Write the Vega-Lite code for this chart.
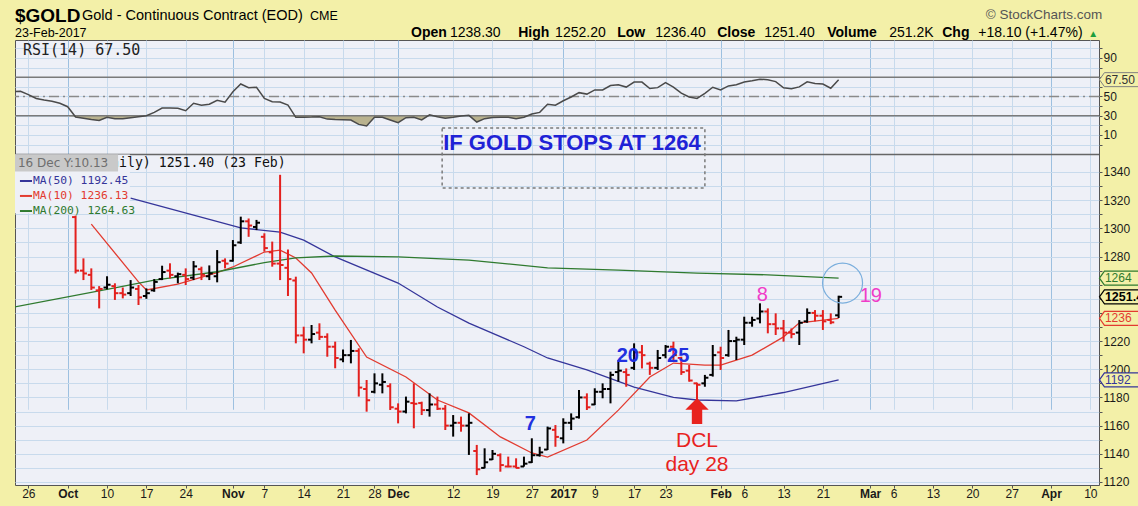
{
"$schema": "https://vega.github.io/schema/vega-lite/v6.json",
"width": 1084,
"height": 445,
"autosize": {"type": "none"},
"padding": {"left": 15, "top": 40, "right": 39, "bottom": 21},
"background": "#F3F0A8",
"config": {
  "font": "Liberation Sans",
  "view": {"fill": "#EEF0F7", "stroke": "#555555", "strokeWidth": 1},
  "axis": {"domain": false, "labelFont": "Liberation Sans", "labelFontSize": 12, "labelColor": "#1A1A1A", "tickColor": "#555555", "tickSize": 3, "labelPadding": 1, "gridColor": "#C8DAEC", "gridWidth": 1}
},
"datasets": {
  "rsi": [{"i":-2,"rsi":55},{"i":-1,"rsi":55.5},{"i":0,"rsi":52},{"i":1,"rsi":48},{"i":2,"rsi":46.4},{"i":3,"rsi":45},{"i":4,"rsi":43},{"i":5,"rsi":39.4},{"i":6,"rsi":28.7},{"i":7,"rsi":27.5},{"i":8,"rsi":26},{"i":9,"rsi":25},{"i":10,"rsi":28.4},{"i":11,"rsi":27},{"i":12,"rsi":27},{"i":13,"rsi":28},{"i":14,"rsi":29},{"i":15,"rsi":30},{"i":16,"rsi":33.5},{"i":17,"rsi":38},{"i":18,"rsi":38},{"i":19,"rsi":37.7},{"i":20,"rsi":35.2},{"i":21,"rsi":43},{"i":22,"rsi":41},{"i":23,"rsi":42},{"i":24,"rsi":46},{"i":25,"rsi":44},{"i":26,"rsi":55},{"i":27,"rsi":63},{"i":28,"rsi":59.2},{"i":29,"rsi":59.6},{"i":30,"rsi":48},{"i":31,"rsi":44.6},{"i":32,"rsi":44.3},{"i":33,"rsi":41},{"i":34,"rsi":28.4},{"i":35,"rsi":28.4},{"i":36,"rsi":28.6},{"i":37,"rsi":29},{"i":38,"rsi":26.5},{"i":39,"rsi":26},{"i":40,"rsi":25.8},{"i":41,"rsi":25.6},{"i":42,"rsi":21},{"i":43,"rsi":19.3},{"i":44,"rsi":28.4},{"i":45,"rsi":28.4},{"i":46,"rsi":25.5},{"i":47,"rsi":22.8},{"i":48,"rsi":28},{"i":49,"rsi":28.4},{"i":50,"rsi":25.6},{"i":51,"rsi":31},{"i":52,"rsi":29},{"i":53,"rsi":27.5},{"i":54,"rsi":28.5},{"i":55,"rsi":29.8},{"i":56,"rsi":30.4},{"i":57,"rsi":23.5},{"i":58,"rsi":27},{"i":59,"rsi":28.3},{"i":60,"rsi":28.4},{"i":61,"rsi":28.4},{"i":62,"rsi":27},{"i":63,"rsi":28.4},{"i":64,"rsi":31.8},{"i":65,"rsi":33.5},{"i":66,"rsi":42},{"i":67,"rsi":41},{"i":68,"rsi":45.6},{"i":69,"rsi":49.5},{"i":70,"rsi":54},{"i":71,"rsi":52.5},{"i":72,"rsi":56.8},{"i":73,"rsi":56.8},{"i":74,"rsi":61.4},{"i":75,"rsi":62.3},{"i":76,"rsi":59.8},{"i":77,"rsi":65},{"i":78,"rsi":65},{"i":79,"rsi":58.3},{"i":80,"rsi":59.2},{"i":81,"rsi":64.4},{"i":82,"rsi":59.8},{"i":83,"rsi":53.5},{"i":84,"rsi":49.5},{"i":85,"rsi":48},{"i":86,"rsi":53.3},{"i":87,"rsi":59.6},{"i":88,"rsi":56.8},{"i":89,"rsi":61},{"i":90,"rsi":62.3},{"i":91,"rsi":65},{"i":92,"rsi":66.3},{"i":93,"rsi":68},{"i":94,"rsi":67.3},{"i":95,"rsi":65.5},{"i":96,"rsi":59},{"i":97,"rsi":58.1},{"i":98,"rsi":60},{"i":99,"rsi":65.2},{"i":100,"rsi":63.5},{"i":101,"rsi":63},{"i":102,"rsi":58.6},{"i":103,"rsi":67.5}],
  "ohlc": [
{"i":6,"date":"2016-10-04","open":1308,"high":1309,"low":1268,"close":1270,"dir":"down"},
{"i":7,"date":"2016-10-05","open":1270,"high":1278.7,"low":1263.3,"close":1268,"dir":"down"},
{"i":8,"date":"2016-10-06","open":1267,"high":1271.6,"low":1256.3,"close":1258,"dir":"down"},
{"i":9,"date":"2016-10-07","open":1256,"high":1259,"low":1243.2,"close":1257,"dir":"down"},
{"i":10,"date":"2016-10-10","open":1258,"high":1266,"low":1256.7,"close":1260,"dir":"up"},
{"i":11,"date":"2016-10-11","open":1259,"high":1261,"low":1249.2,"close":1254,"dir":"down"},
{"i":12,"date":"2016-10-12","open":1254,"high":1258,"low":1250.3,"close":1253,"dir":"down"},
{"i":13,"date":"2016-10-13","open":1254,"high":1263.3,"low":1252,"close":1258,"dir":"up"},
{"i":14,"date":"2016-10-14","open":1257,"high":1259.8,"low":1245.6,"close":1251,"dir":"down"},
{"i":15,"date":"2016-10-17","open":1252,"high":1257.4,"low":1250,"close":1254,"dir":"up"},
{"i":16,"date":"2016-10-18","open":1256,"high":1264,"low":1255,"close":1262,"dir":"up"},
{"i":17,"date":"2016-10-19","open":1264,"high":1273.5,"low":1263.3,"close":1269,"dir":"up"},
{"i":18,"date":"2016-10-20","open":1270,"high":1275.2,"low":1264.5,"close":1267,"dir":"down"},
{"i":19,"date":"2016-10-21","open":1266,"high":1268.6,"low":1261,"close":1267.5,"dir":"up"},
{"i":20,"date":"2016-10-24","open":1267,"high":1271.6,"low":1259.8,"close":1264,"dir":"down"},
{"i":21,"date":"2016-10-25","open":1265,"high":1276.8,"low":1263.3,"close":1273,"dir":"up"},
{"i":22,"date":"2016-10-26","open":1271,"high":1272.8,"low":1263.3,"close":1267,"dir":"down"},
{"i":23,"date":"2016-10-27","open":1266,"high":1273.7,"low":1263.3,"close":1268,"dir":"up"},
{"i":24,"date":"2016-10-28","open":1266,"high":1284.6,"low":1261.7,"close":1276,"dir":"up"},
{"i":25,"date":"2016-10-31","open":1277,"high":1278.7,"low":1271.6,"close":1275,"dir":"down"},
{"i":26,"date":"2016-11-01","open":1277,"high":1291.7,"low":1276.4,"close":1288,"dir":"up"},
{"i":27,"date":"2016-11-02","open":1290,"high":1308.3,"low":1289,"close":1305,"dir":"up"},
{"i":28,"date":"2016-11-03","open":1305,"high":1307,"low":1294,"close":1302,"dir":"down"},
{"i":29,"date":"2016-11-04","open":1301,"high":1306,"low":1298.8,"close":1304,"dir":"up"},
{"i":30,"date":"2016-11-07","open":1294,"high":1296.5,"low":1283.5,"close":1286,"dir":"down"},
{"i":31,"date":"2016-11-08","open":1283,"high":1290.6,"low":1272.8,"close":1275,"dir":"down"},
{"i":32,"date":"2016-11-09","open":1275,"high":1338,"low":1263.3,"close":1274,"dir":"down"},
{"i":33,"date":"2016-11-10","open":1272,"high":1285,"low":1252,"close":1264,"dir":"down"},
{"i":34,"date":"2016-11-11","open":1263,"high":1265.7,"low":1218.4,"close":1224,"dir":"down"},
{"i":35,"date":"2016-11-14","open":1224,"high":1230.2,"low":1211.3,"close":1221,"dir":"down"},
{"i":36,"date":"2016-11-15","open":1221,"high":1231.4,"low":1218.4,"close":1225,"dir":"up"},
{"i":37,"date":"2016-11-16","open":1226,"high":1232.6,"low":1220.8,"close":1223,"dir":"down"},
{"i":38,"date":"2016-11-17","open":1223,"high":1225.5,"low":1208.9,"close":1216,"dir":"down"},
{"i":39,"date":"2016-11-18","open":1216,"high":1219.6,"low":1200.7,"close":1208,"dir":"down"},
{"i":40,"date":"2016-11-21","open":1207,"high":1214,"low":1205,"close":1210,"dir":"up"},
{"i":41,"date":"2016-11-22","open":1210,"high":1220.8,"low":1204.2,"close":1213,"dir":"up"},
{"i":42,"date":"2016-11-23","open":1213,"high":1214.9,"low":1180.6,"close":1187,"dir":"down"},
{"i":43,"date":"2016-11-25","open":1186,"high":1192.4,"low":1169.9,"close":1178,"dir":"down"},
{"i":44,"date":"2016-11-28","open":1184,"high":1197.1,"low":1182.9,"close":1190,"dir":"up"},
{"i":45,"date":"2016-11-29","open":1189,"high":1197.1,"low":1182.9,"close":1191,"dir":"up"},
{"i":46,"date":"2016-11-30","open":1188,"high":1190,"low":1171.1,"close":1173,"dir":"down"},
{"i":47,"date":"2016-12-01","open":1172,"high":1175.8,"low":1161.6,"close":1170,"dir":"down"},
{"i":48,"date":"2016-12-02","open":1170,"high":1180.6,"low":1168.7,"close":1177,"dir":"up"},
{"i":49,"date":"2016-12-05","open":1176,"high":1190,"low":1158.1,"close":1175.5,"dir":"down"},
{"i":50,"date":"2016-12-06","open":1176,"high":1177,"low":1167.5,"close":1171,"dir":"down"},
{"i":51,"date":"2016-12-07","open":1171,"high":1182.9,"low":1166.4,"close":1175,"dir":"up"},
{"i":52,"date":"2016-12-08","open":1175,"high":1180.6,"low":1171.1,"close":1172,"dir":"down"},
{"i":53,"date":"2016-12-09","open":1172,"high":1174.6,"low":1156.9,"close":1160,"dir":"down"},
{"i":54,"date":"2016-12-12","open":1160,"high":1167.5,"low":1152.2,"close":1162,"dir":"up"},
{"i":55,"date":"2016-12-13","open":1162,"high":1166.4,"low":1155.7,"close":1160,"dir":"down"},
{"i":56,"date":"2016-12-14","open":1160,"high":1168.7,"low":1139.2,"close":1162,"dir":"up"},
{"i":57,"date":"2016-12-15","open":1142,"high":1146.3,"low":1124.9,"close":1129,"dir":"down"},
{"i":58,"date":"2016-12-16","open":1130,"high":1143.9,"low":1129.7,"close":1134,"dir":"up"},
{"i":59,"date":"2016-12-19","open":1136,"high":1142.7,"low":1135.6,"close":1140,"dir":"up"},
{"i":60,"date":"2016-12-20","open":1139,"high":1140.3,"low":1127.3,"close":1132,"dir":"down"},
{"i":61,"date":"2016-12-21","open":1131,"high":1138,"low":1130.5,"close":1131,"dir":"down"},
{"i":62,"date":"2016-12-22","open":1131,"high":1136.8,"low":1129.7,"close":1130,"dir":"down"},
{"i":63,"date":"2016-12-23","open":1131,"high":1138,"low":1130.9,"close":1133,"dir":"up"},
{"i":64,"date":"2016-12-27","open":1134,"high":1151,"low":1133.5,"close":1139,"dir":"up"},
{"i":65,"date":"2016-12-28","open":1139,"high":1145,"low":1138,"close":1141,"dir":"up"},
{"i":66,"date":"2016-12-29","open":1143,"high":1159.3,"low":1142.7,"close":1158,"dir":"up"},
{"i":67,"date":"2016-12-30","open":1157,"high":1160.4,"low":1145,"close":1152,"dir":"down"},
{"i":68,"date":"2017-01-03","open":1151,"high":1165.2,"low":1147.4,"close":1162,"dir":"up"},
{"i":69,"date":"2017-01-04","open":1162,"high":1168.7,"low":1156.9,"close":1165,"dir":"up"},
{"i":70,"date":"2017-01-05","open":1166,"high":1185.3,"low":1165,"close":1180,"dir":"up"},
{"i":71,"date":"2017-01-06","open":1180,"high":1182.9,"low":1171.1,"close":1173,"dir":"down"},
{"i":72,"date":"2017-01-09","open":1175,"high":1186.5,"low":1174.6,"close":1184,"dir":"up"},
{"i":73,"date":"2017-01-10","open":1184,"high":1190,"low":1179.4,"close":1186,"dir":"up"},
{"i":74,"date":"2017-01-11","open":1186,"high":1198.3,"low":1175.8,"close":1196,"dir":"up"},
{"i":75,"date":"2017-01-12","open":1198,"high":1206.6,"low":1191.2,"close":1199,"dir":"up"},
{"i":76,"date":"2017-01-13","open":1198,"high":1200.6,"low":1187.6,"close":1196,"dir":"down"},
{"i":77,"date":"2017-01-17","open":1201,"high":1218.4,"low":1199.5,"close":1212,"dir":"up"},
{"i":78,"date":"2017-01-18","open":1212,"high":1217.2,"low":1200.6,"close":1210,"dir":"down"},
{"i":79,"date":"2017-01-19","open":1204,"high":1205.4,"low":1196,"close":1201,"dir":"down"},
{"i":80,"date":"2017-01-20","open":1201,"high":1213.7,"low":1199.5,"close":1208,"dir":"up"},
{"i":81,"date":"2017-01-23","open":1210,"high":1217.2,"low":1207.8,"close":1216,"dir":"up"},
{"i":82,"date":"2017-01-24","open":1216,"high":1219.6,"low":1206.6,"close":1210,"dir":"down"},
{"i":83,"date":"2017-01-25","open":1208,"high":1208.9,"low":1196,"close":1198,"dir":"down"},
{"i":84,"date":"2017-01-26","open":1199,"high":1203,"low":1191.2,"close":1192,"dir":"down"},
{"i":85,"date":"2017-01-27","open":1190,"high":1190.5,"low":1178.2,"close":1189,"dir":"down"},
{"i":86,"date":"2017-01-30","open":1190,"high":1196,"low":1187.6,"close":1194,"dir":"up"},
{"i":87,"date":"2017-01-31","open":1196,"high":1217.2,"low":1194.8,"close":1210,"dir":"up"},
{"i":88,"date":"2017-02-01","open":1212,"high":1216,"low":1199.5,"close":1208,"dir":"down"},
{"i":89,"date":"2017-02-02","open":1210,"high":1227.9,"low":1208.9,"close":1220,"dir":"up"},
{"i":90,"date":"2017-02-03","open":1220,"high":1223.1,"low":1206.6,"close":1221,"dir":"up"},
{"i":91,"date":"2017-02-06","open":1221,"high":1237.3,"low":1217.2,"close":1233,"dir":"up"},
{"i":92,"date":"2017-02-07","open":1233,"high":1237.3,"low":1230.2,"close":1235,"dir":"up"},
{"i":93,"date":"2017-02-08","open":1236,"high":1246.8,"low":1232.6,"close":1241,"dir":"up"},
{"i":94,"date":"2017-02-09","open":1241,"high":1243.2,"low":1225.5,"close":1232,"dir":"down"},
{"i":95,"date":"2017-02-10","open":1232,"high":1239.7,"low":1224.3,"close":1229,"dir":"down"},
{"i":96,"date":"2017-02-13","open":1229,"high":1235,"low":1219.6,"close":1226,"dir":"down"},
{"i":97,"date":"2017-02-14","open":1226,"high":1229,"low":1222,"close":1225,"dir":"down"},
{"i":98,"date":"2017-02-15","open":1226,"high":1234.9,"low":1217.2,"close":1233,"dir":"up"},
{"i":99,"date":"2017-02-16","open":1234,"high":1243.2,"low":1233,"close":1240,"dir":"up"},
{"i":100,"date":"2017-02-17","open":1240,"high":1242,"low":1234,"close":1238,"dir":"down"},
{"i":101,"date":"2017-02-21","open":1238,"high":1242,"low":1227.9,"close":1234,"dir":"down"},
{"i":102,"date":"2017-02-22","open":1235,"high":1239.7,"low":1232,"close":1233.3,"dir":"down"},
{"i":103,"date":"2017-02-23","open":1238.3,"high":1252.2,"low":1236.4,"close":1251.4,"dir":"up"}
  ],
  "ma": [
{"series":"MA(10)","i":8,"value":1303},{"series":"MA(10)","i":14,"value":1262},{"series":"MA(10)","i":15,"value":1256.3},{"series":"MA(10)","i":19,"value":1260.5},{"series":"MA(10)","i":24,"value":1268.5},{"series":"MA(10)","i":26,"value":1272.6},{"series":"MA(10)","i":30,"value":1283.2},{"series":"MA(10)","i":32,"value":1284.6},{"series":"MA(10)","i":34,"value":1279},{"series":"MA(10)","i":36,"value":1268.3},{"series":"MA(10)","i":39,"value":1242},{"series":"MA(10)","i":43,"value":1208.7},{"series":"MA(10)","i":48,"value":1194.5},{"series":"MA(10)","i":52,"value":1178.2},{"series":"MA(10)","i":56,"value":1169},{"series":"MA(10)","i":60,"value":1152},{"series":"MA(10)","i":64,"value":1140.6},{"series":"MA(10)","i":66,"value":1137.7},{"series":"MA(10)","i":71,"value":1149.8},{"series":"MA(10)","i":75,"value":1171},{"series":"MA(10)","i":79,"value":1194.5},{"series":"MA(10)","i":82,"value":1204.4},{"series":"MA(10)","i":86,"value":1203},{"series":"MA(10)","i":88,"value":1203},{"series":"MA(10)","i":92,"value":1210},{"series":"MA(10)","i":96,"value":1223},{"series":"MA(10)","i":98,"value":1233},{"series":"MA(10)","i":103,"value":1236.13},
{"series":"MA(50)","i":13,"value":1321.5},{"series":"MA(50)","i":27,"value":1300.3},{"series":"MA(50)","i":32,"value":1297.4},{"series":"MA(50)","i":35,"value":1291.7},{"series":"MA(50)","i":39,"value":1279.7},{"series":"MA(50)","i":47,"value":1261.2},{"series":"MA(50)","i":52,"value":1244.2},{"series":"MA(50)","i":56,"value":1232.8},{"series":"MA(50)","i":63,"value":1216},{"series":"MA(50)","i":66,"value":1208},{"series":"MA(50)","i":71,"value":1199.5},{"series":"MA(50)","i":77,"value":1187.4},{"series":"MA(50)","i":82,"value":1180},{"series":"MA(50)","i":85,"value":1178.2},{"series":"MA(50)","i":90,"value":1177.5},{"series":"MA(50)","i":96,"value":1183.5},{"series":"MA(50)","i":103,"value":1192.45},
{"series":"MA(200)","i":-2,"value":1243.9},{"series":"MA(200)","i":11,"value":1257.7},{"series":"MA(200)","i":16,"value":1263.3},{"series":"MA(200)","i":24,"value":1269.2},{"series":"MA(200)","i":30,"value":1275.7},{"series":"MA(200)","i":34,"value":1279},{"series":"MA(200)","i":39,"value":1280.4},{"series":"MA(200)","i":47,"value":1279.7},{"series":"MA(200)","i":56,"value":1277.5},{"series":"MA(200)","i":66,"value":1272},{"series":"MA(200)","i":75,"value":1270.4},{"series":"MA(200)","i":85,"value":1268.3},{"series":"MA(200)","i":94,"value":1267},{"series":"MA(200)","i":103,"value":1264.63}
  ],
  "legend": [
    {"series":"MA(50)","text":"MA(50) 1192.45","price":1333.6},
    {"series":"MA(10)","text":"MA(10) 1236.13","price":1323},
    {"series":"MA(200)","text":"MA(200) 1264.63","price":1312.3}
  ],
  "tags": [
    {"series":"MA(200)","value":1264.63,"label":"1264"},
    {"series":"MA(10)","value":1236.13,"label":"1236"},
    {"series":"MA(50)","value":1192.45,"label":"1192"},
    {"series":"close","value":1251.4,"label":"1251.40"}
  ],
  "notes": [
    {"text":"7","i":63.8,"price":1161,"kind":"cycle"},
    {"text":"20","i":76.2,"price":1209.4,"kind":"cycle"},
    {"text":"25","i":82.6,"price":1209.4,"kind":"cycle"},
    {"text":"8","i":93.3,"price":1252.7,"kind":"count"},
    {"text":"19","i":107.1,"price":1252.1,"kind":"count"},
    {"text":"DCL","i":85,"price":1149.1,"kind":"dcl"},
    {"text":"day 28","i":85,"price":1132,"kind":"dcl"},
    {"text":"IF GOLD STOPS AT 1264","i":69.1,"price":1360.6,"kind":"headline"}
  ],
  "header": [
    {"text":"$GOLD","i":-1.7,"r":127.4,"part":"ticker"},
    {"text":"Gold - Continuous Contract (EOD)","i":6.82,"r":129.5,"part":"name"},
    {"text":"CME","i":35.8,"r":129.5,"part":"small"},
    {"text":"23-Feb-2017","i":-1.7,"r":111.8,"part":"small"},
    {"text":"Open","i":48.65,"r":111.8,"part":"field"},
    {"text":"1238.30","i":53.6,"r":111.8,"part":"value"},
    {"text":"High","i":62.26,"r":111.8,"part":"field"},
    {"text":"1252.20","i":66.96,"r":111.8,"part":"value"},
    {"text":"Low","i":74.85,"r":111.8,"part":"field"},
    {"text":"1236.40","i":79.68,"r":111.8,"part":"value"},
    {"text":"Close","i":87.56,"r":111.8,"part":"field"},
    {"text":"1251.40","i":93.54,"r":111.8,"part":"value"},
    {"text":"Volume","i":101.55,"r":111.8,"part":"field"},
    {"text":"251.2K","i":109.43,"r":111.8,"part":"value"},
    {"text":"Chg","i":116.17,"r":111.8,"part":"field"},
    {"text":"+18.10 (+1.47%)","i":120.75,"r":111.8,"part":"value"},
    {"text":"▲","i":134.74,"r":111.8,"part":"arrow"},
    {"text":"© StockCharts.com","i":136.52,"r":130.5,"part":"credit"}
  ]
},
"layer": [
  {
    "data": {"name": "rsi"},
    "mark": {"type": "area", "color": "#B9B28E", "clip": true},
    "encoding": {
      "x": {"field": "i", "type": "quantitative", "scale": {"domain": [-1.7, 136.1], "nice": false, "zero": false}},
      "y": {"field": "rsi", "type": "quantitative", "scale": {"domain": [-353.64, 30], "range": [445, 75.75], "clamp": true, "nice": false, "zero": false}, "axis": null},
      "y2": {"datum": 30}
    }
  },
  {"data": {"values": [{"level": 70}, {"level": 30}]}, "mark": {"type": "rule", "color": "#7A7A7A", "strokeWidth": 1.5},
   "encoding": {"y": {"field": "level", "type": "quantitative", "scale": {"domain": [-353.64, 108.7], "nice": false, "zero": false}, "axis": null}}},
  {"data": {"values": [{"level": 50}]}, "mark": {"type": "rule", "color": "#8A8A8A", "strokeWidth": 1.5, "strokeDash": [10, 4, 2, 4]},
   "encoding": {"y": {"field": "level", "type": "quantitative", "scale": {"domain": [-353.64, 108.7], "nice": false, "zero": false}, "axis": null}}},
  {"data": {"values": [{"level": -10.3}]}, "mark": {"type": "rule", "color": "#666666", "strokeWidth": 1.5},
   "encoding": {"y": {"field": "level", "type": "quantitative", "scale": {"domain": [-353.64, 108.7], "nice": false, "zero": false}, "axis": null}}},
  {"data": {"name": "rsi"}, "mark": {"type": "line", "color": "#4A4A4A", "strokeWidth": 1.5, "clip": true},
   "encoding": {
     "x": {"field": "i", "type": "quantitative", "scale": {"domain": [-1.7, 136.1], "nice": false, "zero": false},
       "axis": {"orient": "bottom", "title": null, "tickCount": 200,
         "values": [0,5,10,15,20,26,30,35,40,44,47,54,59,64,68,72,77,81,88,91,96,101,107,110,115,120,125,130,135],
         "labelExpr": "datum.value == 0 ? '26' : datum.value == 5 ? 'Oct' : datum.value == 10 ? '10' : datum.value == 15 ? '17' : datum.value == 20 ? '24' : datum.value == 26 ? 'Nov' : datum.value == 30 ? '7' : datum.value == 35 ? '14' : datum.value == 40 ? '21' : datum.value == 44 ? '28' : datum.value == 47 ? 'Dec' : datum.value == 54 ? '12' : datum.value == 59 ? '19' : datum.value == 64 ? '27' : datum.value == 68 ? '2017' : datum.value == 72 ? '9' : datum.value == 77 ? '17' : datum.value == 81 ? '23' : datum.value == 88 ? 'Feb' : datum.value == 91 ? '6' : datum.value == 96 ? '13' : datum.value == 101 ? '21' : datum.value == 107 ? 'Mar' : datum.value == 110 ? '6' : datum.value == 115 ? '13' : datum.value == 120 ? '20' : datum.value == 125 ? '27' : datum.value == 130 ? 'Apr' : datum.value == 135 ? '10' : ''",
         "labelFontWeight": {"condition": {"test": "indexof([5,26,47,68,88,107,130], datum.value) >= 0", "value": "bold"}, "value": "normal"},
         "grid": true,
         "gridColor": {"condition": {"test": "indexof([5,26,47,68,88,107,130], datum.value) >= 0", "value": "#9DC0E0"}, "value": "#C8DAEC"},
         "labelFlush": false, "labelOverlap": false, "labelPadding": 0}},
     "y": {"field": "rsi", "type": "quantitative", "scale": {"domain": [-353.64, 108.7], "nice": false, "zero": false},
       "axis": {"orient": "right", "title": null, "tickCount": 200, "values": [0,10,20,30,40,50,60,70,80,90,100],
         "labelExpr": "datum.value == 10 || datum.value == 30 || datum.value == 50 || datum.value == 90 ? datum.label : ''", "grid": true}}
   }},
  {"data": {"values": [{"text": "RSI(14) 67.50", "i": -0.69, "r": 93.1}]}, "mark": {"type": "text", "font": "DejaVu Sans Mono", "fontSize": 15, "align": "left", "baseline": "alphabetic", "color": "#222222"},
   "encoding": {"x": {"field": "i", "type": "quantitative", "scale": {"domain": [-1.7, 136.1], "nice": false, "zero": false}},
     "y": {"field": "r", "type": "quantitative", "scale": {"domain": [-353.64, 108.7], "nice": false, "zero": false}, "axis": null},
     "text": {"field": "text"}}},
  {"data": {"values": [{"label": "67.50", "rsi": 67.5}]}, "mark": {"type": "point", "shape": "M-1,0L-0.75,-0.35L1,-0.35L1,0.35L-0.75,0.35Z", "size": 1600, "filled": true, "fill": "#F3F0A8", "stroke": "#808080", "strokeWidth": 1, "opacity": 1},
   "encoding": {"x": {"datum": 138.7, "type": "quantitative", "scale": {"domain": [-1.7, 136.1], "nice": false, "zero": false}},
     "y": {"field": "rsi", "type": "quantitative", "scale": {"domain": [-353.64, 108.7], "nice": false, "zero": false}, "axis": null}}},
  {"data": {"values": [{"label": "67.50", "rsi": 67.5}]}, "mark": {"type": "text", "fontSize": 12, "align": "left", "baseline": "middle", "color": "#333333"},
   "encoding": {"x": {"datum": 136.85, "type": "quantitative", "scale": {"domain": [-1.7, 136.1], "nice": false, "zero": false}},
     "y": {"field": "rsi", "type": "quantitative", "scale": {"domain": [-353.64, 108.7], "nice": false, "zero": false}, "axis": null},
     "text": {"field": "label"}}},
  {"data": {"name": "header"}, "transform": [{"filter": "datum.part === 'ticker'"}],
   "mark": {"type": "text", "fontWeight": "bold", "fontSize": 19, "align": "left", "baseline": "alphabetic", "color": "#000000"},
   "encoding": {"x": {"field": "i", "type": "quantitative", "scale": {"domain": [-1.7, 136.1], "nice": false, "zero": false}},
     "y": {"field": "r", "type": "quantitative", "scale": {"domain": [-353.64, 108.7], "nice": false, "zero": false}, "axis": null},
     "text": {"field": "text"}}},
  {"data": {"name": "header"}, "transform": [{"filter": "datum.part === 'name'"}],
   "mark": {"type": "text", "fontSize": 14.5, "align": "left", "baseline": "alphabetic", "color": "#000000"},
   "encoding": {"x": {"field": "i", "type": "quantitative", "scale": {"domain": [-1.7, 136.1], "nice": false, "zero": false}},
     "y": {"field": "r", "type": "quantitative", "scale": {"domain": [-353.64, 108.7], "nice": false, "zero": false}, "axis": null},
     "text": {"field": "text"}}},
  {"data": {"name": "header"}, "transform": [{"filter": "datum.part === 'small'"}],
   "mark": {"type": "text", "fontSize": 12.5, "align": "left", "baseline": "alphabetic", "color": "#000000"},
   "encoding": {"x": {"field": "i", "type": "quantitative", "scale": {"domain": [-1.7, 136.1], "nice": false, "zero": false}},
     "y": {"field": "r", "type": "quantitative", "scale": {"domain": [-353.64, 108.7], "nice": false, "zero": false}, "axis": null},
     "text": {"field": "text"}}},
  {"data": {"name": "header"}, "transform": [{"filter": "datum.part === 'field'"}],
   "mark": {"type": "text", "fontSize": 14, "fontWeight": "bold", "align": "left", "baseline": "alphabetic", "color": "#000000"},
   "encoding": {"x": {"field": "i", "type": "quantitative", "scale": {"domain": [-1.7, 136.1], "nice": false, "zero": false}},
     "y": {"field": "r", "type": "quantitative", "scale": {"domain": [-353.64, 108.7], "nice": false, "zero": false}, "axis": null},
     "text": {"field": "text"}}},
  {"data": {"name": "header"}, "transform": [{"filter": "datum.part === 'value'"}],
   "mark": {"type": "text", "fontSize": 14, "align": "left", "baseline": "alphabetic", "color": "#000000"},
   "encoding": {"x": {"field": "i", "type": "quantitative", "scale": {"domain": [-1.7, 136.1], "nice": false, "zero": false}},
     "y": {"field": "r", "type": "quantitative", "scale": {"domain": [-353.64, 108.7], "nice": false, "zero": false}, "axis": null},
     "text": {"field": "text"}}},
  {"data": {"name": "header"}, "transform": [{"filter": "datum.part === 'arrow'"}],
   "mark": {"type": "text", "fontSize": 10, "align": "left", "baseline": "alphabetic", "color": "#1E9E3E"},
   "encoding": {"x": {"field": "i", "type": "quantitative", "scale": {"domain": [-1.7, 136.1], "nice": false, "zero": false}},
     "y": {"field": "r", "type": "quantitative", "scale": {"domain": [-353.64, 108.7], "nice": false, "zero": false}, "axis": null},
     "text": {"field": "text"}}},
  {"data": {"name": "header"}, "transform": [{"filter": "datum.part === 'credit'"}],
   "mark": {"type": "text", "fontSize": 13.5, "align": "right", "baseline": "alphabetic", "color": "#555555"},
   "encoding": {"x": {"field": "i", "type": "quantitative", "scale": {"domain": [-1.7, 136.1], "nice": false, "zero": false}},
     "y": {"field": "r", "type": "quantitative", "scale": {"domain": [-353.64, 108.7], "nice": false, "zero": false}, "axis": null},
     "text": {"field": "text"}}},
  {"data": {"name": "ma"}, "mark": {"type": "line", "strokeWidth": 1.3, "clip": true},
   "encoding": {
     "x": {"field": "i", "type": "quantitative", "scale": {"domain": [-1.7, 136.1], "nice": false, "zero": false}},
     "y": {"field": "value", "type": "quantitative", "scale": {"domain": [1117.86, 1433.68], "nice": false, "zero": false},
       "axis": {"orient": "right", "title": null, "tickCount": 200, "values": [1120,1130,1140,1150,1160,1170,1180,1190,1200,1210,1220,1230,1240,1250,1260,1270,1280,1290,1300,1310,1320,1330,1340],
         "format": "d", "labelExpr": "datum.value % 20 == 0 && datum.value != 1260 && datum.value != 1240 ? datum.label : ''", "grid": true}},
     "color": {"field": "series", "type": "nominal", "scale": {"domain": ["up","down","close","MA(10)","MA(50)","MA(200)"], "range": ["#000000","#E3201E","#000000","#E23B30","#35359A","#2F7A2F"]}, "legend": null}
   }},
  {"data": {"name": "ohlc"}, "mark": {"type": "rule", "strokeWidth": 2},
   "encoding": {
     "x": {"field": "i", "type": "quantitative", "scale": {"domain": [-1.7, 136.1], "nice": false, "zero": false}},
     "y": {"field": "low", "type": "quantitative", "scale": {"domain": [1117.86, 1433.68], "nice": false, "zero": false}, "axis": null},
     "y2": {"field": "high"},
     "color": {"field": "dir", "type": "nominal", "scale": {"domain": ["up","down","close","MA(10)","MA(50)","MA(200)"], "range": ["#000000","#E3201E","#000000","#E23B30","#35359A","#2F7A2F"]}, "legend": null}
   }},
  {"data": {"name": "ohlc"}, "mark": {"type": "point", "shape": "M-1,0L0,0", "size": 49, "filled": false, "strokeWidth": 2, "opacity": 1},
   "encoding": {
     "x": {"field": "i", "type": "quantitative", "scale": {"domain": [-1.7, 136.1], "nice": false, "zero": false}},
     "y": {"field": "open", "type": "quantitative", "scale": {"domain": [1117.86, 1433.68], "nice": false, "zero": false}, "axis": null},
     "color": {"field": "dir", "type": "nominal", "scale": {"domain": ["up","down","close","MA(10)","MA(50)","MA(200)"], "range": ["#000000","#E3201E","#000000","#E23B30","#35359A","#2F7A2F"]}, "legend": null}
   }},
  {"data": {"name": "ohlc"}, "mark": {"type": "point", "shape": "M0,0L1,0", "size": 49, "filled": false, "strokeWidth": 2, "opacity": 1},
   "encoding": {
     "x": {"field": "i", "type": "quantitative", "scale": {"domain": [-1.7, 136.1], "nice": false, "zero": false}},
     "y": {"field": "close", "type": "quantitative", "scale": {"domain": [1117.86, 1433.68], "nice": false, "zero": false}, "axis": null},
     "color": {"field": "dir", "type": "nominal", "scale": {"domain": ["up","down","close","MA(10)","MA(50)","MA(200)"], "range": ["#000000","#E3201E","#000000","#E23B30","#35359A","#2F7A2F"]}, "legend": null}
   }},
  {"data": {"values": [{"i0": -1.7, "i1": 12.9, "p0": 1352.4, "p1": 1310.5}]}, "mark": {"type": "rect", "fill": "#EEF0F7"},
   "encoding": {
     "x": {"field": "i0", "type": "quantitative", "scale": {"domain": [-1.7, 136.1], "nice": false, "zero": false}},
     "x2": {"field": "i1"},
     "y": {"field": "p0", "type": "quantitative", "scale": {"domain": [1117.86, 1433.68], "nice": false, "zero": false}, "axis": null},
     "y2": {"field": "p1"}
   }},
  {"data": {"values": [{"text": "$GOLD (Daily) 1251.40 (23 Feb)", "i": 2.44, "price": 1346.4}]}, "mark": {"type": "text", "font": "DejaVu Sans Mono", "fontSize": 13.2, "align": "left", "baseline": "middle", "color": "#111111"},
   "encoding": {
     "x": {"field": "i", "type": "quantitative", "scale": {"domain": [-1.7, 136.1], "nice": false, "zero": false}},
     "y": {"field": "price", "type": "quantitative", "scale": {"domain": [1117.86, 1433.68], "nice": false, "zero": false}, "axis": null},
     "text": {"field": "text"}
   }},
  {"data": {"values": [{"i0": -1.7, "i1": 11.4, "p0": 1352.4, "p1": 1340.4}]}, "mark": {"type": "rect", "fill": "#C9C9C9"},
   "encoding": {
     "x": {"field": "i0", "type": "quantitative", "scale": {"domain": [-1.7, 136.1], "nice": false, "zero": false}},
     "x2": {"field": "i1"},
     "y": {"field": "p0", "type": "quantitative", "scale": {"domain": [1117.86, 1433.68], "nice": false, "zero": false}, "axis": null},
     "y2": {"field": "p1"}
   }},
  {"data": {"values": [{"text": "16 Dec Y:10.13", "i": -1.32, "price": 1346.4}]}, "mark": {"type": "text", "font": "DejaVu Sans", "fontSize": 12, "align": "left", "baseline": "middle", "color": "#6E6E6E"},
   "encoding": {
     "x": {"field": "i", "type": "quantitative", "scale": {"domain": [-1.7, 136.1], "nice": false, "zero": false}},
     "y": {"field": "price", "type": "quantitative", "scale": {"domain": [1117.86, 1433.68], "nice": false, "zero": false}, "axis": null},
     "text": {"field": "text"}
   }},
  {"data": {"name": "legend"}, "mark": {"type": "rule", "strokeWidth": 2},
   "encoding": {
     "x": {"datum": -1.07, "type": "quantitative", "scale": {"domain": [-1.7, 136.1], "nice": false, "zero": false}},
     "x2": {"datum": 0.46},
     "y": {"field": "price", "type": "quantitative", "scale": {"domain": [1117.86, 1433.68], "nice": false, "zero": false}, "axis": null},
     "color": {"field": "series", "type": "nominal", "scale": {"domain": ["up","down","close","MA(10)","MA(50)","MA(200)"], "range": ["#000000","#E3201E","#000000","#E23B30","#35359A","#2F7A2F"]}, "legend": null}
   }},
  {"data": {"name": "legend"}, "mark": {"type": "text", "font": "DejaVu Sans Mono", "fontSize": 11.3, "align": "left", "baseline": "middle"},
   "encoding": {
     "x": {"datum": 0.59, "type": "quantitative", "scale": {"domain": [-1.7, 136.1], "nice": false, "zero": false}},
     "y": {"field": "price", "type": "quantitative", "scale": {"domain": [1117.86, 1433.68], "nice": false, "zero": false}, "axis": null},
     "text": {"field": "text"},
     "color": {"field": "series", "type": "nominal", "scale": {"domain": ["up","down","close","MA(10)","MA(50)","MA(200)"], "range": ["#000000","#E3201E","#000000","#E23B30","#35359A","#2F7A2F"]}, "legend": null}
   }},
  {"data": {"values": [{"i0": 52.6, "i1": 86.0, "p0": 1371.2, "p1": 1328.6}]}, "mark": {"type": "rect", "fillOpacity": 0, "stroke": "#7A7A7A", "strokeWidth": 1.5, "strokeDash": [3, 3]},
   "encoding": {
     "x": {"field": "i0", "type": "quantitative", "scale": {"domain": [-1.7, 136.1], "nice": false, "zero": false}},
     "x2": {"field": "i1"},
     "y": {"field": "p0", "type": "quantitative", "scale": {"domain": [1117.86, 1433.68], "nice": false, "zero": false}, "axis": null},
     "y2": {"field": "p1"}
   }},
  {"data": {"name": "notes"}, "transform": [{"filter": "datum.kind === 'headline'"}],
   "mark": {"type": "text", "fontSize": 22, "fontWeight": "bold", "align": "center", "baseline": "middle", "color": "#1F22D6"},
   "encoding": {
     "x": {"field": "i", "type": "quantitative", "scale": {"domain": [-1.7, 136.1], "nice": false, "zero": false}},
     "y": {"field": "price", "type": "quantitative", "scale": {"domain": [1117.86, 1433.68], "nice": false, "zero": false}, "axis": null},
     "text": {"field": "text"}
   }},
  {"data": {"name": "notes"}, "transform": [{"filter": "datum.kind === 'cycle'"}],
   "mark": {"type": "text", "fontSize": 20, "fontWeight": "bold", "align": "center", "baseline": "middle", "color": "#2230E0"},
   "encoding": {
     "x": {"field": "i", "type": "quantitative", "scale": {"domain": [-1.7, 136.1], "nice": false, "zero": false}},
     "y": {"field": "price", "type": "quantitative", "scale": {"domain": [1117.86, 1433.68], "nice": false, "zero": false}, "axis": null},
     "text": {"field": "text"}
   }},
  {"data": {"name": "notes"}, "transform": [{"filter": "datum.kind === 'count'"}],
   "mark": {"type": "text", "fontSize": 20, "align": "center", "baseline": "middle", "color": "#F03CC8"},
   "encoding": {
     "x": {"field": "i", "type": "quantitative", "scale": {"domain": [-1.7, 136.1], "nice": false, "zero": false}},
     "y": {"field": "price", "type": "quantitative", "scale": {"domain": [1117.86, 1433.68], "nice": false, "zero": false}, "axis": null},
     "text": {"field": "text"}
   }},
  {"data": {"name": "notes"}, "transform": [{"filter": "datum.kind === 'dcl'"}],
   "mark": {"type": "text", "fontSize": 21, "align": "center", "baseline": "middle", "color": "#E8231E"},
   "encoding": {
     "x": {"field": "i", "type": "quantitative", "scale": {"domain": [-1.7, 136.1], "nice": false, "zero": false}},
     "y": {"field": "price", "type": "quantitative", "scale": {"domain": [1117.86, 1433.68], "nice": false, "zero": false}, "axis": null},
     "text": {"field": "text"}
   }},
  {"data": {"values": [{"i": 85, "price": 1170.4}]}, "mark": {"type": "point", "shape": "M0,-1L0.9,-0.1L0.4,-0.1L0.4,1L-0.4,1L-0.4,-0.1L-0.9,-0.1Z", "size": 676, "filled": true, "color": "#E8231E", "opacity": 1},
   "encoding": {
     "x": {"field": "i", "type": "quantitative", "scale": {"domain": [-1.7, 136.1], "nice": false, "zero": false}},
     "y": {"field": "price", "type": "quantitative", "scale": {"domain": [1117.86, 1433.68], "nice": false, "zero": false}, "axis": null}
   }},
  {"data": {"values": [{"i": 103.5, "price": 1261.2}]}, "mark": {"type": "point", "shape": "circle", "size": 1600, "filled": false, "color": "#7AAEDD", "strokeWidth": 1.2, "opacity": 1},
   "encoding": {
     "x": {"field": "i", "type": "quantitative", "scale": {"domain": [-1.7, 136.1], "nice": false, "zero": false}},
     "y": {"field": "price", "type": "quantitative", "scale": {"domain": [1117.86, 1433.68], "nice": false, "zero": false}, "axis": null}
   }},
  {"data": {"name": "tags"}, "mark": {"type": "point", "shape": "M-1,0L-0.75,-0.35L1,-0.35L1,0.35L-0.75,0.35Z", "size": 1600, "filled": true, "fill": "#F3F0A8", "strokeWidth": 1.2, "opacity": 1},
   "encoding": {
     "x": {"datum": 138.7, "type": "quantitative", "scale": {"domain": [-1.7, 136.1], "nice": false, "zero": false}},
     "y": {"field": "value", "type": "quantitative", "scale": {"domain": [1117.86, 1433.68], "nice": false, "zero": false}, "axis": null},
     "stroke": {"field": "series", "type": "nominal", "scale": {"domain": ["up","down","close","MA(10)","MA(50)","MA(200)"], "range": ["#000000","#E3201E","#000000","#E23B30","#35359A","#2F7A2F"]}, "legend": null}
   }},
  {"data": {"name": "tags"}, "transform": [{"filter": "datum.series !== 'close'"}],
   "mark": {"type": "text", "fontSize": 12, "align": "left", "baseline": "middle"},
   "encoding": {
     "x": {"datum": 136.85, "type": "quantitative", "scale": {"domain": [-1.7, 136.1], "nice": false, "zero": false}},
     "y": {"field": "value", "type": "quantitative", "scale": {"domain": [1117.86, 1433.68], "nice": false, "zero": false}, "axis": null},
     "text": {"field": "label"},
     "color": {"field": "series", "type": "nominal", "scale": {"domain": ["up","down","close","MA(10)","MA(50)","MA(200)"], "range": ["#000000","#E3201E","#000000","#E23B30","#35359A","#2F7A2F"]}, "legend": null}
   }},
  {"data": {"name": "tags"}, "transform": [{"filter": "datum.series === 'close'"}],
   "mark": {"type": "text", "fontSize": 12.5, "fontWeight": "bold", "align": "left", "baseline": "middle"},
   "encoding": {
     "x": {"datum": 136.85, "type": "quantitative", "scale": {"domain": [-1.7, 136.1], "nice": false, "zero": false}},
     "y": {"field": "value", "type": "quantitative", "scale": {"domain": [1117.86, 1433.68], "nice": false, "zero": false}, "axis": null},
     "text": {"field": "label"},
     "color": {"field": "series", "type": "nominal", "scale": {"domain": ["up","down","close","MA(10)","MA(50)","MA(200)"], "range": ["#000000","#E3201E","#000000","#E23B30","#35359A","#2F7A2F"]}, "legend": null}
   }}
],
"resolve": {"scale": {"y": "independent"}}
}
